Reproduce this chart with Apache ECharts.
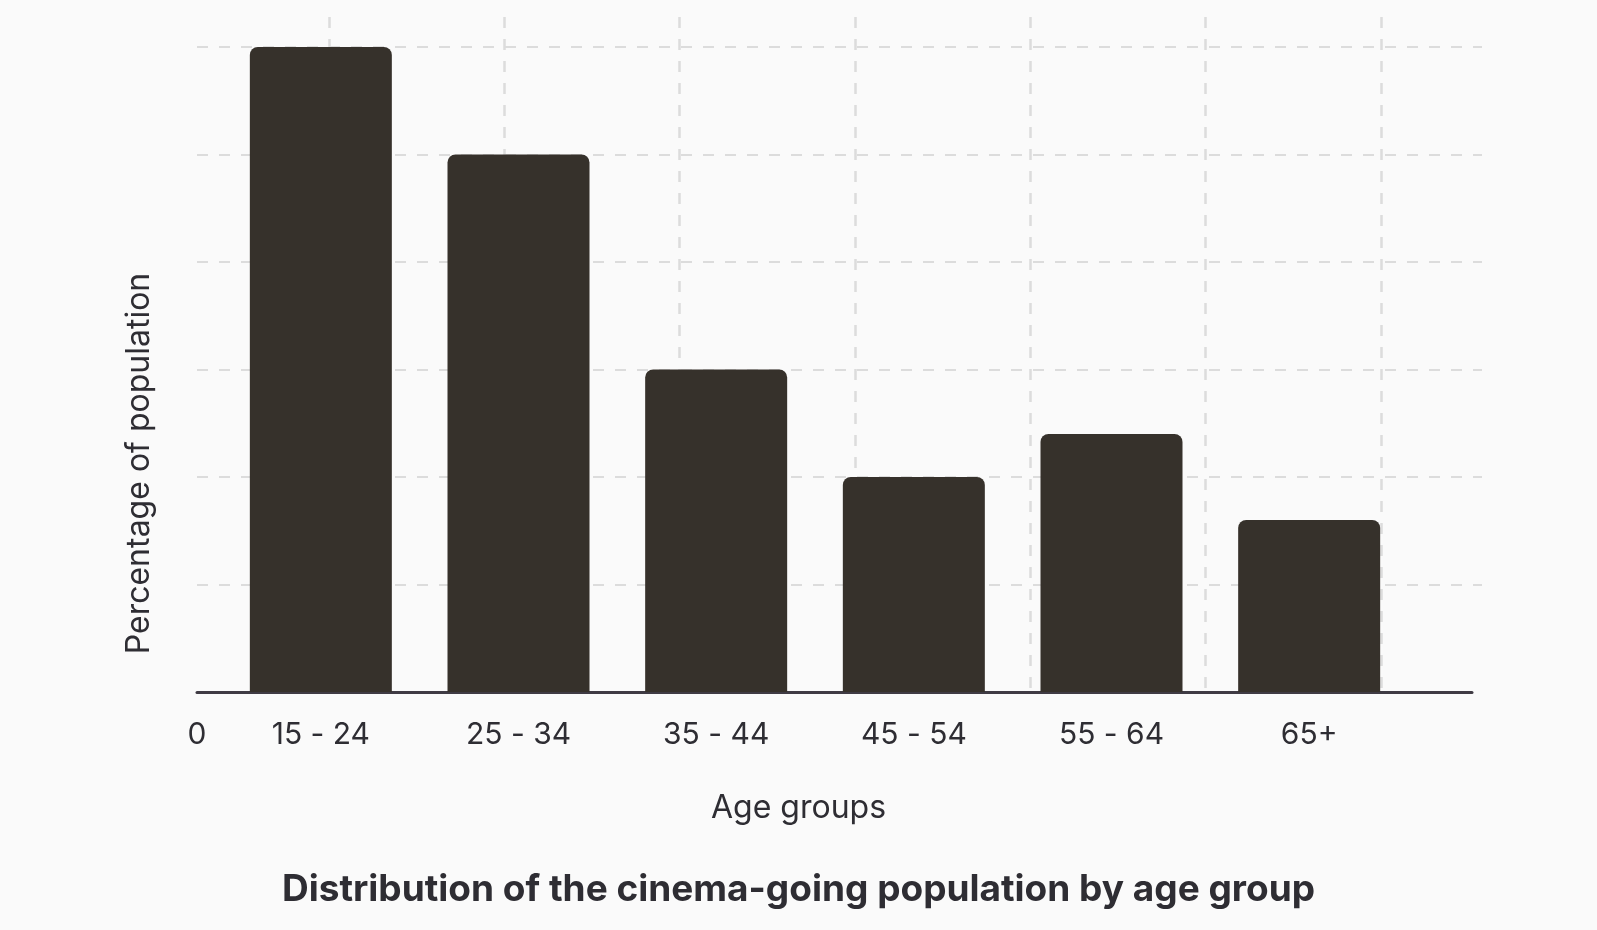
<!DOCTYPE html>
<html>
<head>
<meta charset="utf-8">
<script src="https://cdn.jsdelivr.net/npm/echarts@6/dist/echarts.min.js"></script>
<style>
  html, body { margin: 0; padding: 0; background: #fafafa; }
  #chart { width: 1597px; height: 930px; }
</style>
</head>
<body>
<div id="chart"></div>
<script>
const AGE_GROUPS = ['15 - 24', '25 - 34', '35 - 44', '45 - 54', '55 - 64', '65+']
const SHARE = [30, 25, 15, 10, 12, 8]
const Y_MAX = 30
const Y_STEP = 5

const TITLE = 'Distribution of the cinema-going population by age group'
const X_NAME = 'Age groups'
const Y_NAME = 'Percentage of population'

const BAR_COLOR = '#36312b'
const GRID_COLOR = '#dcdcdc'
const TEXT_COLOR = '#2e2d33'
const FONT = 'Inter, "Noto Sans", sans-serif'

const chart = echarts.init(document.getElementById('chart'))

const dashedH = { color: GRID_COLOR, width: 2, type: [11, 11] }
const dashedV = { color: GRID_COLOR, width: 2.5, type: [11, 11] }

const option = {
  backgroundColor: '#fafafa',
  textStyle: { fontFamily: FONT },
  title: [
    {
      text: TITLE,
      left: 'center',
      top: 866,
      textStyle: { fontFamily: FONT, fontSize: 37, fontWeight: 'bold', color: TEXT_COLOR }
    },
    {
      text: X_NAME,
      left: 'center',
      top: 787,
      textStyle: { fontFamily: FONT, fontSize: 32, fontWeight: 'normal', color: TEXT_COLOR }
    }
  ],
  grid: [
    // bars
    { left: 222, right: 189, top: 47, bottom: 238 },
    // vertical dashed lattice
    { left: 153.7, right: 40.9, top: 17, bottom: 238 },
    // horizontal dashed lattice
    { left: 197, right: 115, top: 47, bottom: 238 },
    // axis line, zero label, y name
    { left: 197, right: 125, top: 235, bottom: 238 }
  ],
  xAxis: [
    {
      gridIndex: 0,
      type: 'category',
      data: AGE_GROUPS,
      axisLine: { show: false },
      axisTick: { show: false },
      axisLabel: { fontSize: 30, color: TEXT_COLOR, margin: 28, fontFamily: FONT }
    },
    {
      gridIndex: 1,
      type: 'value',
      min: 0,
      max: 8,
      interval: 1,
      axisLine: { show: false },
      axisTick: { show: false },
      axisLabel: { show: false },
      splitLine: { show: true, showMinLine: false, showMaxLine: false, lineStyle: dashedV }
    },
    {
      gridIndex: 2,
      type: 'value',
      show: false
    },
    {
      gridIndex: 3,
      type: 'value',
      min: 0,
      max: 1,
      axisLine: { show: true, onZero: false, lineStyle: { color: '#3f3b44', width: 3 } },
      axisTick: { show: false },
      splitLine: { show: false },
      axisLabel: {
        fontSize: 30,
        color: TEXT_COLOR,
        margin: 28,
        fontFamily: FONT,
        formatter: (v) => (v === 0 ? '0' : '')
      }
    }
  ],
  yAxis: [
    { gridIndex: 0, type: 'value', min: 0, max: Y_MAX, show: false },
    { gridIndex: 1, type: 'value', show: false },
    {
      gridIndex: 2,
      type: 'value',
      min: 0,
      max: Y_MAX,
      interval: Y_STEP,
      axisLine: { show: false },
      axisTick: { show: false },
      axisLabel: { show: false },
      splitLine: { show: true, showMinLine: false, lineStyle: dashedH }
    },
    {
      gridIndex: 3,
      type: 'value',
      axisLine: { show: false },
      axisTick: { show: false },
      axisLabel: { show: false },
      splitLine: { show: false },
      name: Y_NAME,
      nameLocation: 'middle',
      nameGap: 42,
      nameTextStyle: { fontSize: 32, color: TEXT_COLOR, fontFamily: FONT }
    }
  ],
  series: [
    {
      type: 'bar',
      xAxisIndex: 0,
      yAxisIndex: 0,
      data: SHARE,
      barWidth: 142,
      itemStyle: { color: BAR_COLOR, borderRadius: [8, 8, 0, 0] },
      z: 3
    }
  ]
}

chart.setOption(option)
window.addEventListener('resize', () => chart.resize())
</script>
</body>
</html>
